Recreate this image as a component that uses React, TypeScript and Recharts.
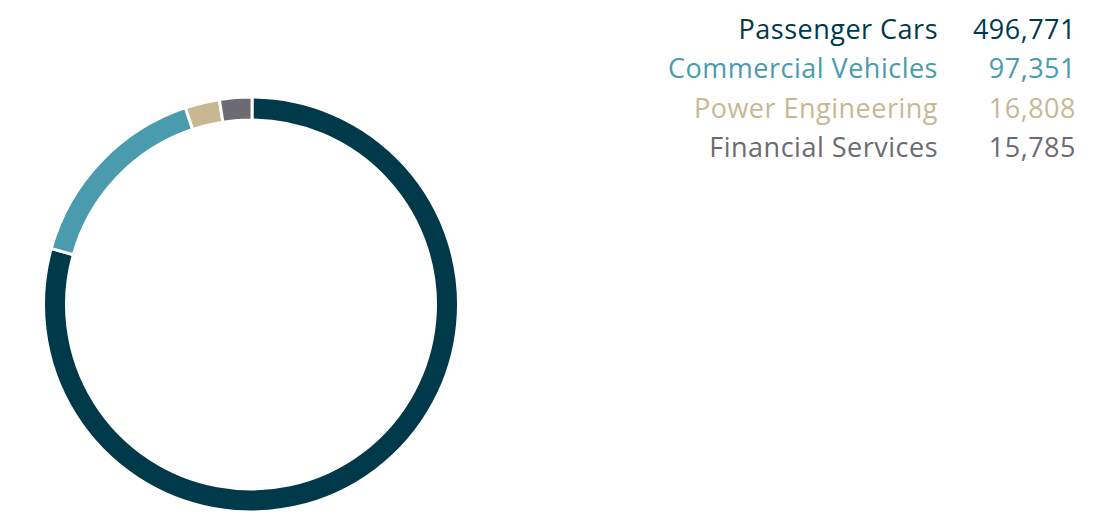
import React from 'react';
import { PieChart, Pie, Cell, Legend } from 'recharts';

const segments = ['Passenger Cars', 'Commercial Vehicles', 'Power Engineering', 'Financial Services'];
const deliveries = [496771, 97351, 16808, 15785];
const colors = ['#00394a', '#4a9bad', '#c9b794', '#6b6b71'];

const data = segments.map((name, i) => ({ name, value: deliveries[i] }));

const FONT = '"Open Sans", Lato, sans-serif';

const renderLegend = () => (
  <div style={{ fontFamily: FONT, fontSize: 27, lineHeight: '39.3px', letterSpacing: 0.5 }}>
    {data.map((d, i) => (
      <div key={d.name} style={{ display: 'flex', justifyContent: 'flex-end', color: colors[i] }}>
        <span style={{ textAlign: 'right' }}>{d.name}</span>
        <span style={{ width: 138, textAlign: 'right' }}>{d.value.toLocaleString('en-US')}</span>
      </div>
    ))}
  </div>
);

const App: React.FC = () => {
  return (
    <div style={{ width: 1104, height: 504, position: 'relative', overflow: 'hidden' }}>
      <PieChart width={1104} height={504} margin={{ top: 0, right: 0, bottom: 0, left: 0 }}>
        <Pie
          data={data}
          dataKey="value"
          nameKey="name"
          cx={243}
          cy={296.5}
          outerRadius={207.5}
          innerRadius={184.5}
          startAngle={89.7}
          endAngle={-270.3}
          stroke="#ffffff"
          strokeWidth={3}
          isAnimationActive={false}
        >
          {data.map((d, i) => (
            <Cell key={d.name} fill={colors[i]} />
          ))}
        </Pie>
        <Legend
          content={renderLegend}
          wrapperStyle={{ position: 'absolute', top: 1, right: 36, left: 'auto', width: 'auto' }}
        />
      </PieChart>
    </div>
  );
};

export default App;
